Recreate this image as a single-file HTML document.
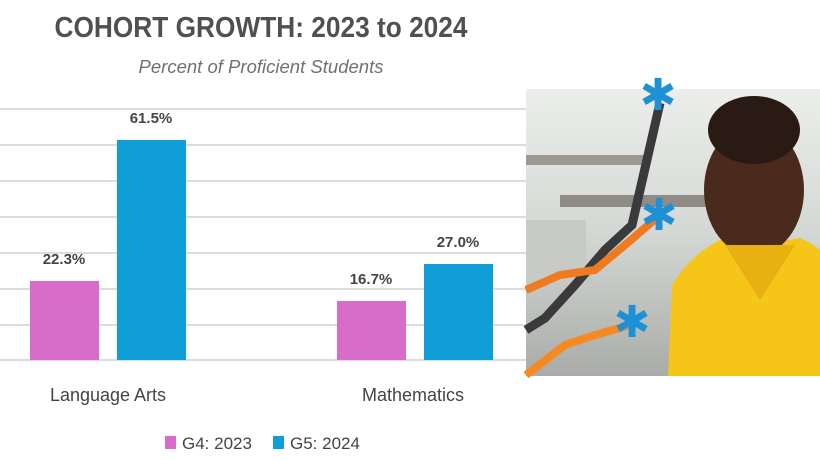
<!DOCTYPE html>
<html><head><style>
html,body{margin:0;padding:0;background:#fff;width:820px;height:460px;overflow:hidden}
svg{display:block;font-family:"Liberation Sans",sans-serif}
</style></head><body>
<svg width="820" height="460" viewBox="0 0 820 460" xmlns="http://www.w3.org/2000/svg">
<text x="261" y="37" text-anchor="middle" font-size="29" font-weight="bold" fill="#505050" textLength="413" lengthAdjust="spacingAndGlyphs">COHORT GROWTH: 2023 to 2024</text>
<text x="261" y="73" text-anchor="middle" font-size="18" font-style="italic" fill="#707070" textLength="245" lengthAdjust="spacingAndGlyphs">Percent of Proficient Students</text>
<g stroke="#dcdcdc" stroke-width="2">
<line x1="0" y1="109" x2="526" y2="109"/><line x1="0" y1="145" x2="526" y2="145"/>
<line x1="0" y1="181" x2="526" y2="181"/><line x1="0" y1="217" x2="526" y2="217"/>
<line x1="0" y1="253" x2="526" y2="253"/><line x1="0" y1="289" x2="526" y2="289"/>
<line x1="0" y1="325" x2="526" y2="325"/><line x1="0" y1="360" x2="526" y2="360"/>
</g>
<rect x="30" y="281" width="69" height="79" fill="#d76cc9"/>
<rect x="117" y="140" width="69" height="220" fill="#0f9ed6"/>
<rect x="337" y="301" width="69" height="59" fill="#d76cc9"/>
<rect x="424" y="264" width="69" height="96" fill="#0f9ed6"/>
<g font-size="15" font-weight="bold" fill="#444" text-anchor="middle">
<text x="64" y="264">22.3%</text><text x="151" y="123">61.5%</text>
<text x="371" y="284">16.7%</text><text x="458" y="247">27.0%</text>
</g>
<g font-size="18" fill="#444" text-anchor="middle">
<text x="108" y="401">Language Arts</text><text x="413" y="401">Mathematics</text>
</g>
<rect x="165" y="436" width="11" height="13" fill="#d76cc9"/>
<text x="182" y="449" font-size="17" fill="#444">G4: 2023</text>
<rect x="273" y="436" width="11" height="13" fill="#0f9ed6"/>
<text x="290" y="449" font-size="17" fill="#444">G5: 2024</text>
<defs>
<linearGradient id="bg" x1="0" y1="0" x2="0" y2="1">
<stop offset="0" stop-color="#eceeec"/><stop offset="0.5" stop-color="#d4d8d4"/><stop offset="1" stop-color="#a9aba8"/></linearGradient>
<clipPath id="cp"><rect x="526" y="89" width="294" height="287"/></clipPath>
</defs>
<g clip-path="url(#cp)">
<rect x="526" y="89" width="294" height="287" fill="url(#bg)"/>
<rect x="526" y="155" width="120" height="10" fill="#9a9890"/>
<rect x="560" y="195" width="150" height="12" fill="#8f8c85"/>
<rect x="526" y="220" width="60" height="60" fill="#c8cac6"/>
<path d="M668 376 L672 285 Q690 255 720 240 L760 245 L800 238 Q815 245 820 250 L820 376 Z" fill="#f5c518"/>
<rect x="740" y="225" width="40" height="30" fill="#3a2016"/>
<ellipse cx="754" cy="190" rx="50" ry="66" fill="#4a2a1c"/>
<ellipse cx="754" cy="130" rx="46" ry="34" fill="#2a1a14"/>
<path d="M725 245 L760 300 L795 245" fill="#e8b010"/>
</g>
<polyline points="526,330 545,318 575,285 605,250 632,225 660,103" fill="none" stroke="#3a3a3a" stroke-width="9"/>
<polyline points="526,290 560,275 595,270 625,245 660,215" fill="none" stroke="#f07a20" stroke-width="8"/>
<polyline points="526,375 565,345 595,335 630,325" fill="none" stroke="#f58a20" stroke-width="8"/>
<g fill="#1e90d6" font-size="44" text-anchor="middle">
<text x="658" y="110">✱</text><text x="659" y="230">✱</text><text x="632" y="337">✱</text>
</g>
</svg>
</body></html>
